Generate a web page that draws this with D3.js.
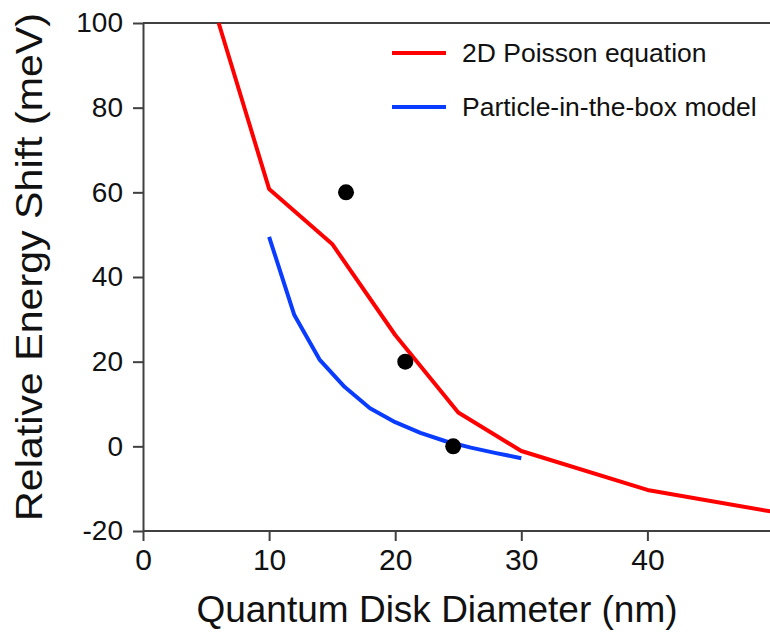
<!DOCTYPE html>
<html>
<head>
<meta charset="utf-8">
<script src="https://cdn.jsdelivr.net/npm/d3@7"></script>
<style>
  html, body { margin: 0; padding: 0; background: #fff; }
  svg { display: block; font-family: "Liberation Sans", Arial, sans-serif; }
</style>
</head>
<body>
<svg id="chart" width="770" height="635"></svg>
<script>
// ---- data ----
const poissonX = [6, 10, 15, 20, 25, 30, 40, 50];
const poissonY = [100, 60.8, 47.8, 26.3, 8, -1.1, -10.3, -15.5];
const boxX = [10, 12, 14, 16, 18, 20, 22, 24, 26, 28, 30];
const boxY = [49.5, 31, 20.5, 14, 9, 5.7, 3.2, 1.2, -0.3, -1.6, -2.8];
const expX = [16.1, 20.8, 24.6];
const expY = [60, 20, 0];
const xTicks = [0, 10, 20, 30, 40];
const yTicks = [-20, 0, 20, 40, 60, 80, 100];
const legendLabels = ["2D Poisson equation", "Particle-in-the-box model"];
const xTitle = "Quantum Disk Diameter (nm)";
const yTitle = "Relative Energy Shift (meV)";

(function () {
// ---- layout ----
const svg = d3.select("#chart");
const pLeft = 143, pTop = 23, pBottom = 531, pRight = 773.5;
const x = d3.scaleLinear().domain([0, 50]).range([pLeft, pRight]);
const y = d3.scaleLinear().domain([-20, 100]).range([pBottom, pTop]);
const axisColor = "#404040";
const red = "#ff0000", blue = "#0a3cff";

// top frame line
svg.append("line")
  .attr("x1", pLeft).attr("x2", 770).attr("y1", pTop).attr("y2", pTop)
  .attr("stroke", axisColor).attr("stroke-width", 2);

// x axis
const gx = svg.append("g").attr("transform", `translate(0,${pBottom})`)
  .call(d3.axisBottom(x).tickValues(xTicks).tickFormat(d => String(d))
    .tickSize(10).tickPadding(8).tickSizeOuter(0));
gx.select(".domain").attr("stroke", axisColor).attr("stroke-width", 2)
  .attr("d", `M${pLeft},0H770`);
gx.selectAll(".tick line").attr("stroke", axisColor).attr("stroke-width", 2);
gx.selectAll(".tick text").attr("font-size", 30).attr("fill", "#111")
  .attr("font-family", "Liberation Sans, Arial, sans-serif");

// y axis
const gy = svg.append("g").attr("transform", `translate(${pLeft},0)`)
  .call(d3.axisLeft(y).tickValues(yTicks).tickFormat(d => String(d))
    .tickSize(10).tickPadding(10).tickSizeOuter(0));
gy.select(".domain").attr("stroke", axisColor).attr("stroke-width", 2);
gy.selectAll(".tick line").attr("stroke", axisColor).attr("stroke-width", 2);
gy.selectAll(".tick text").attr("font-size", 28).attr("fill", "#111")
  .attr("font-family", "Liberation Sans, Arial, sans-serif");

// lines
const line = d3.line().x(d => x(d[0])).y(d => y(d[1]));
svg.append("path")
  .datum(poissonX.map((v, i) => [v, poissonY[i]]))
  .attr("d", line).attr("fill", "none").attr("stroke", red)
  .attr("stroke-width", 4).attr("stroke-linejoin", "round");
svg.append("path")
  .datum(boxX.map((v, i) => [v, boxY[i]]))
  .attr("d", line).attr("fill", "none").attr("stroke", blue)
  .attr("stroke-width", 4).attr("stroke-linejoin", "round");

// experimental points
svg.selectAll("circle.exp")
  .data(expX.map((v, i) => [v, expY[i]]))
  .join("circle").attr("class", "exp")
  .attr("cx", d => x(d[0])).attr("cy", d => y(d[1]))
  .attr("r", 8).attr("fill", "#000");

// legend
const legColors = [red, blue];
const legY = [53, 107];
legendLabels.forEach((lab, i) => {
  svg.append("line")
    .attr("x1", 392).attr("x2", 446).attr("y1", legY[i]).attr("y2", legY[i])
    .attr("stroke", legColors[i]).attr("stroke-width", 4);
  svg.append("text")
    .attr("x", 462).attr("y", legY[i] + 9)
    .attr("font-size", 26.5).attr("fill", "#111")
    .text(lab);
});

// axis titles
svg.append("text")
  .attr("x", 437).attr("y", 622)
  .attr("text-anchor", "middle").attr("font-size", 37).attr("fill", "#111")
  .text(xTitle);
svg.append("text")
  .attr("transform", "translate(42,267) rotate(-90)")
  .attr("text-anchor", "middle").attr("font-size", 37).attr("fill", "#111")
  .attr("textLength", 508).attr("lengthAdjust", "spacingAndGlyphs")
  .text(yTitle);
})();
</script>
</body>
</html>
